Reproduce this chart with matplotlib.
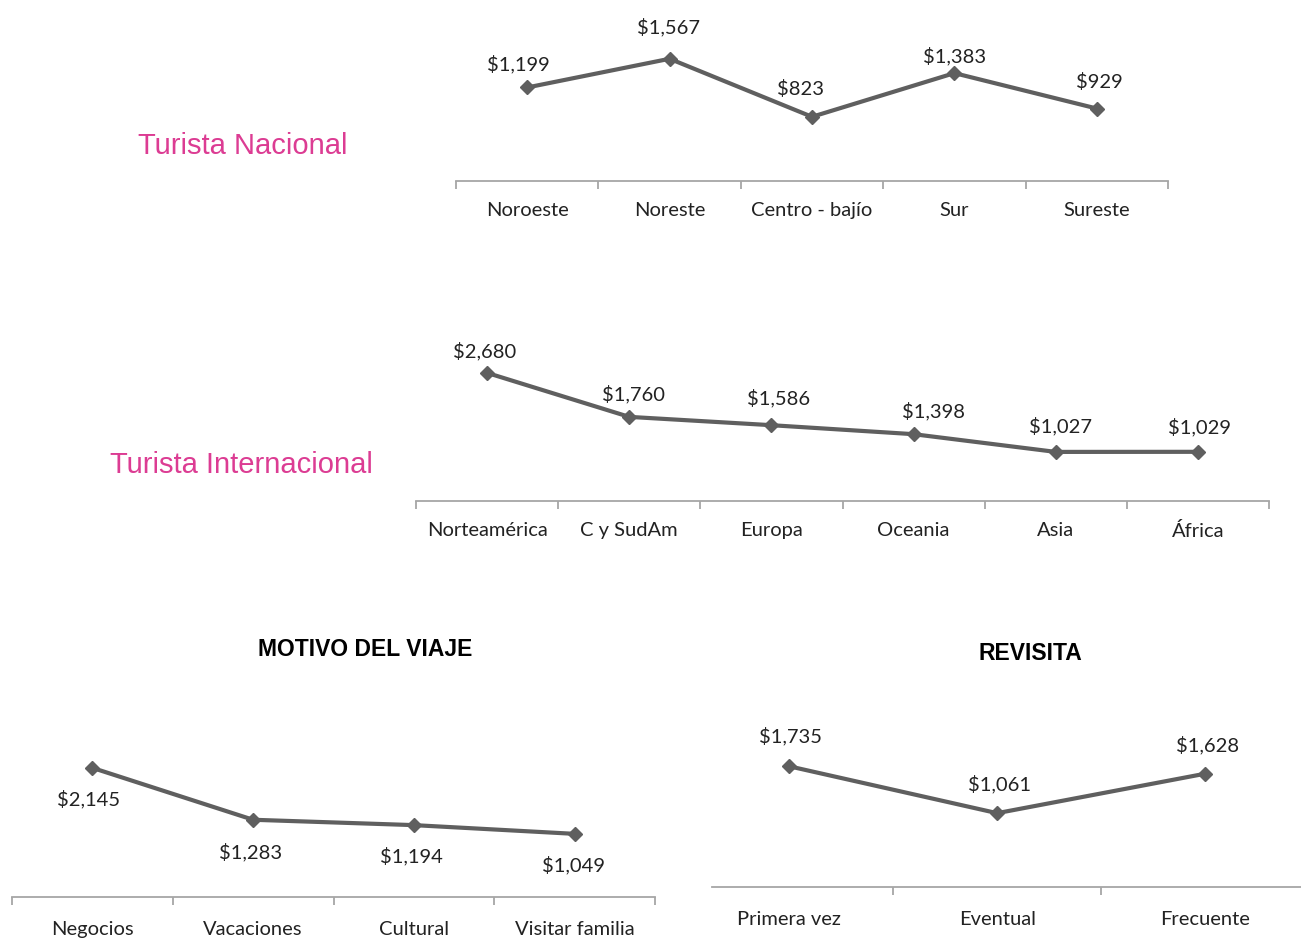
import numpy as np
import matplotlib
matplotlib.use("Agg")
import matplotlib.pyplot as plt

# data
nac_cats = ["Noroeste", "Noreste", "Centro - bajío", "Sur", "Sureste"]
nac_vals = [1199, 1567, 823, 1383, 929]

int_cats = ["Norteamérica", "C y SudAm", "Europa", "Oceania", "Asia", "África"]
int_vals = [2680, 1760, 1586, 1398, 1027, 1029]

mot_cats = ["Negocios", "Vacaciones", "Cultural", "Visitar familia"]
mot_vals = [2145, 1283, 1194, 1049]

rev_cats = ["Primera vez", "Eventual", "Frecuente"]
rev_vals = [1735, 1061, 1628]

# label nudges in pixels (dx, dy), hand-placed in the original
nac_shift = [(-9, 23), (-1, 32), (-12, 28), (0, 17), (3, 27)]
int_shift = [(-2, 22), (4, 23), (7, 27), (20, 23), (5, 26), (2, 25)]
mot_shift = [(-4, -31), (-3, -32), (-2, -31), (-1, -31)]
rev_shift = [(1, 30), (2, 29), (2, 29)]

LINE = "#5f5f5f"
AXC = "#a6a6a6"
PINK = "#dc3c93"
FONT = "Lato"

W, H = 1301, 940
fig = plt.figure(figsize=(W / 100, H / 100), dpi=100)


def box(x0, x1, ybot, ytop):
    # pixel box -> figure fraction
    return [x0 / W, 1 - ybot / H, (x1 - x0) / W, (ybot - ytop) / H]


def line_chart(rect, cats, vals, shift, ymax, xlim=None, edge_ticks=True, pad=15):
    ax = fig.add_axes(rect)
    x = np.arange(len(cats))
    ax.plot(x, vals, color=LINE, lw=3, marker="D", ms=7.5, clip_on=False, zorder=3)
    for xi, v, d in zip(x, vals, shift):
        ax.annotate("${:,}".format(v), (xi, v), xytext=d,
                    textcoords="offset pixels", ha="center", va="center",
                    fontsize=14.5, family=FONT, color="#222222", annotation_clip=False)
    if xlim is None:
        xlim = (-0.5, len(cats) - 0.5)
    ax.set_xlim(*xlim)
    ax.set_ylim(0, ymax)
    for s in ["top", "right", "left"]:
        ax.spines[s].set_visible(False)
    ax.spines["bottom"].set_color(AXC)
    ax.spines["bottom"].set_linewidth(1.3)
    ax.set_yticks([])
    bnd = np.arange(len(cats) + 1) - 0.5
    if not edge_ticks:
        bnd = bnd[1:-1]
    ax.set_xticks(bnd)
    ax.set_xticklabels([])
    ax.tick_params(axis="x", which="major", length=6, width=1.3, color=AXC, direction="out")
    ax.set_xticks(x, minor=True)
    ax.set_xticklabels(cats, minor=True, fontsize=14.5, family=FONT, color="#222222")
    ax.tick_params(axis="x", which="minor", length=0, pad=pad)
    ax.patch.set_alpha(0)
    return ax


line_chart(box(456, 1168, 181, 25), nac_cats, nac_vals, nac_shift, 2000, pad=15)
line_chart(box(416, 1269, 501, 357.6), int_cats, int_vals, int_shift, 3000, pad=15)
line_chart(box(12, 655, 897, 746.5), mot_cats, mot_vals, mot_shift, 2500, pad=17)
line_chart(box(712, 1301, 887, 713), rev_cats, rev_vals, rev_shift, 2500,
           xlim=(-0.37, 2.46), edge_ticks=False, pad=17)

fig.text(243 / W, 1 - 146 / H, "Turista Nacional", color=PINK, fontsize=21,
         family="Liberation Sans", ha="center", va="center")
fig.text(241 / W, 1 - 465 / H, "Turista Internacional", color=PINK, fontsize=21,
         family="Liberation Sans", ha="center", va="center")
fig.text(365 / W, 1 - 650 / H, "MOTIVO DEL VIAJE", fontsize=16.5, fontweight="bold",
         family="Liberation Sans", ha="center", va="center")
fig.text(1030 / W, 1 - 654 / H, "REVISITA", fontsize=16.5, fontweight="bold",
         family="Liberation Sans", ha="center", va="center")

fig.savefig("out.png", dpi=100, facecolor="white")
